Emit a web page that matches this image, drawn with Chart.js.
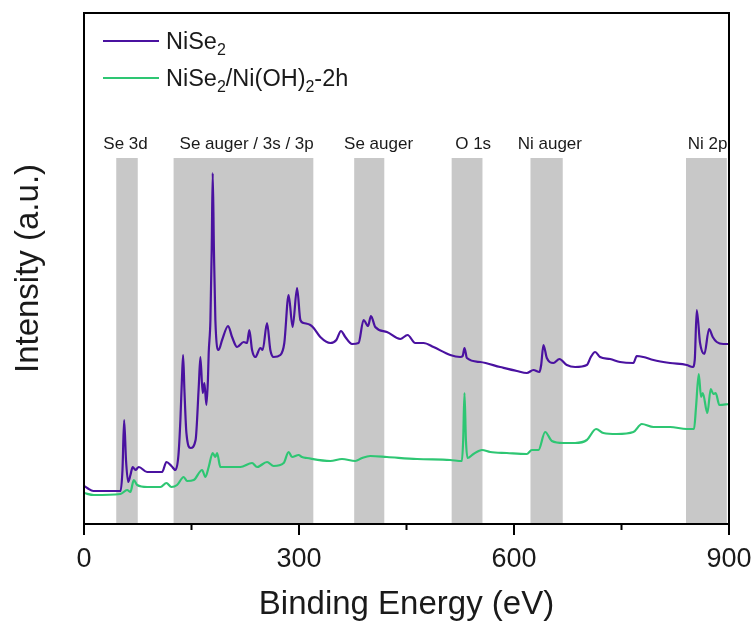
<!DOCTYPE html>
<html>
<head>
<meta charset="utf-8">
<script src="https://cdn.jsdelivr.net/npm/chart.js@4/dist/chart.umd.min.js"></script>
<style>
  html, body { margin: 0; padding: 0; background: #ffffff; }
  #wrap { width: 756px; height: 623px; }
</style>
</head>
<body>
<div id="wrap"><canvas id="c" width="756" height="623"></canvas></div>
<script>
// ---- data ----
const seriesNames = ["NiSe2", "NiSe2/Ni(OH)2-2h"];

// NiSe2 : binding energy (eV) and intensity (a.u.)
const nise2Energy = [0, 4.5, 13, 30, 51, 53.7, 56, 58.6, 61.6, 64.8, 68, 71.8, 76.4, 88, 109, 115, 122,
  127.6, 131.8, 134.5, 136.6, 138.3, 140.1, 142.9, 148.7, 155.7, 160.1, 162.4, 165.6, 168, 170.8, 172.9,
  174, 176.4, 178.2, 179.6, 181.3, 183.3, 187.9, 192.7, 201.1, 206.6, 213.6, 222.8, 227.5, 230.7, 234.5,
  239.1, 246.1, 249.3, 255.4, 260, 264.6, 274, 279.5, 285.5, 291.1, 297.3, 301.9, 306.5, 315.8, 320.4,
  329.7, 343.7, 352.1, 358.6, 364.6, 373.9, 383.1, 390.1, 396.3, 400.4, 406.4, 422.7, 441.3, 451.5, 462.2,
  473.8, 487.7, 511, 525, 528.4, 530.9, 534.3, 552.8, 580.7, 604, 617.9, 627.1, 635.5, 637.9, 641.1, 645.8,
  655, 663.4, 673.7, 685.3, 701.6, 707.2, 713.2, 720.1, 734.1, 748, 766.6, 771.3, 780.5, 794.5, 817.7,
  841, 849.4, 852.2, 855, 859.6, 865.6, 872.2, 877.3, 882.9, 892.1, 900];
const nise2Intensity = [38, 36, 33, 33, 33, 54, 104, 64, 42, 49, 57, 54, 57, 52, 52, 62, 58,
  54, 69, 104, 144, 169, 134, 91, 76, 84, 137, 167, 131, 141, 119, 144,
  171, 204, 274, 351, 274, 204, 174, 184, 198, 187, 177, 182, 181, 194, 174,
  167, 176, 174, 201, 174, 167, 169, 181, 229, 197, 236, 204, 201, 199, 196,
  187, 181, 184, 193, 187, 180, 181, 204, 198, 208, 197, 192, 185, 189, 181,
  181, 177, 169, 167, 168, 176, 166, 162, 157, 153, 151, 154, 152, 159, 179, 166,
  161, 165, 159, 157, 159, 167, 172, 167, 165, 162, 161, 168, 167, 164, 161,
  159, 157, 164, 214, 181, 170, 195, 187, 182, 180, 180];

// NiSe2/Ni(OH)2-2h : binding energy (eV) and intensity (a.u.)
const hybridEnergy = [0, 13.7, 50.9, 60.2, 64.8, 69.4, 74.2, 88.1, 106.7, 115, 122, 129.9, 139.1, 143.9,
  153.1, 164.8, 169.4, 174, 179.6, 183.3, 185.7, 190.3, 199.7, 218.2, 234.5, 241.5, 255.4, 264.6, 278.6,
  285.5, 290.3, 299.5, 304.2, 311.2, 343.7, 360, 378.5, 387.9, 399.5, 422.7, 464.6, 511, 527.3, 529.1,
  530.9, 532.9, 535.1, 543.5, 555.2, 566.8, 590, 617.9, 624.9, 634.1, 643.5, 652.8, 669, 685.3, 701.6,
  714.6, 724.7, 743.4, 766.6, 778.3, 794.5, 817.7, 841, 851.2, 854, 857.8, 861, 863.4, 869.8, 874.5,
  878.1, 881.5, 886.5, 900];
const hybridIntensity = [31, 29, 30, 34, 32, 44, 39, 37, 37, 41, 37, 39, 47, 43,
  44, 54, 47, 57, 71, 67, 71, 57, 57, 57, 61, 57, 62, 58, 61,
  72, 67, 69, 67, 66, 63, 65, 63, 66, 68, 67, 65, 64, 63, 84,
  131, 84, 66, 70, 74, 72, 71, 70, 74, 74, 92, 83, 81, 81, 84,
  95, 91, 90, 92, 100, 97, 97, 95, 95, 117, 150, 127, 131, 111, 135,
  130, 131, 119, 120];

// shaded regions (eV) and their labels
const regionLabels = ["Se 3d", "Se auger / 3s / 3p", "Se auger", "O 1s", "Ni auger", "Ni 2p"];
const regionStart = [45, 125, 377, 513, 623, 840];
const regionEnd   = [75, 320, 419, 556, 668, 897];
const regionLabelAt = [58, 227, 411, 543, 650, 870];

// axis ticks
const xMajorTicks = [0, 300, 600, 900];
const xMinorTicks = [150, 450, 750];

// ---- styling ----
const PURPLE = '#4a12a0';
const GREEN = '#2ec673';
const BAND = '#c8c8c8';
const INK = '#1a1a1a';
const FONT = '"Liberation Sans", Arial, Helvetica, sans-serif';
const BAND_TOP = 366;   // intensity level where the shaded bands end

function pts(xs, ys) { return xs.map((x, i) => ({ x: x, y: ys[i] })); }

const bandsPlugin = {
  id: 'bands',
  beforeDatasetsDraw(chart) {
    const { ctx, chartArea } = chart;
    const xs = chart.scales.x, ys = chart.scales.y;
    ctx.save();
    ctx.fillStyle = BAND;
    const top = ys.getPixelForValue(BAND_TOP);
    for (let i = 0; i < regionStart.length; i++) {
      const a = xs.getPixelForValue(regionStart[i]);
      const b = xs.getPixelForValue(regionEnd[i]);
      ctx.fillRect(a, top, b - a, chartArea.bottom - top);
    }
    ctx.fillStyle = INK;
    ctx.font = '17px ' + FONT;
    ctx.textAlign = 'center';
    ctx.textBaseline = 'middle';
    for (let i = 0; i < regionLabels.length; i++) {
      ctx.fillText(regionLabels[i], xs.getPixelForValue(regionLabelAt[i]), top - 14);
    }
    ctx.restore();
  },
  afterDraw(chart) {
    const { ctx, chartArea } = chart;
    const xs = chart.scales.x;
    ctx.save();
    ctx.strokeStyle = '#000';
    ctx.lineWidth = 2;
    ctx.strokeRect(chartArea.left, chartArea.top, chartArea.right - chartArea.left, chartArea.bottom - chartArea.top);
    ctx.beginPath();
    xMajorTicks.forEach(v => {
      const p = xs.getPixelForValue(v);
      ctx.moveTo(p, chartArea.bottom);
      ctx.lineTo(p, chartArea.bottom + 11);
    });
    xMinorTicks.forEach(v => {
      const p = xs.getPixelForValue(v);
      ctx.moveTo(p, chartArea.bottom);
      ctx.lineTo(p, chartArea.bottom + 6);
    });
    ctx.stroke();

    // legend
    const rows = [
      { color: PURPLE, y: 41, parts: [['NiSe', 0], ['2', 1]] },
      { color: GREEN, y: 78, parts: [['NiSe', 0], ['2', 1], ['/Ni(OH)', 0], ['2', 1], ['-2h', 0]] }
    ];
    rows.forEach(r => {
      ctx.strokeStyle = r.color;
      ctx.lineWidth = 2;
      ctx.beginPath();
      ctx.moveTo(103, r.y);
      ctx.lineTo(159, r.y);
      ctx.stroke();
      let x = 166;
      ctx.fillStyle = INK;
      ctx.textAlign = 'left';
      ctx.textBaseline = 'alphabetic';
      r.parts.forEach(p => {
        if (p[1]) {
          ctx.font = '16px ' + FONT;
          ctx.fillText(p[0], x, r.y + 14);
        } else {
          ctx.font = '23.5px ' + FONT;
          ctx.fillText(p[0], x, r.y + 8);
        }
        x += ctx.measureText(p[0]).width;
      });
    });
    ctx.restore();
  }
};

new Chart(document.getElementById('c'), {
  type: 'line',
  data: {
    datasets: [
      { label: seriesNames[0], data: pts(nise2Energy, nise2Intensity), borderColor: PURPLE,
        borderWidth: 2.2, pointRadius: 0, cubicInterpolationMode: 'monotone', fill: false },
      { label: seriesNames[1], data: pts(hybridEnergy, hybridIntensity), borderColor: GREEN,
        borderWidth: 2.2, pointRadius: 0, cubicInterpolationMode: 'monotone', fill: false }
    ]
  },
  options: {
    responsive: false,
    animation: false,
    devicePixelRatio: 1,
    layout: { padding: { top: 13, right: 27, left: 0, bottom: 0 } },
    plugins: { legend: { display: false }, tooltip: { enabled: false } },
    scales: {
      x: {
        type: 'linear', min: 0, max: 900,
        grid: { display: false }, border: { display: false },
        ticks: { stepSize: 300, color: INK, font: { size: 27, family: FONT }, padding: 11, maxRotation: 0,
          callback: v => (xMajorTicks.includes(v) ? String(v) : '') },
        title: { display: true, text: 'Binding Energy (eV)', color: INK,
          font: { size: 33, family: FONT, lineHeight: 1 }, padding: { top: 0, bottom: 2 } },
        afterFit: s => { s.height = 99; s.paddingLeft = 0; s.paddingRight = 0; }
      },
      y: {
        min: 0, max: 511,
        grid: { display: false }, border: { display: false },
        ticks: { display: false },
        title: { display: true, text: 'Intensity (a.u.)', color: INK,
          font: { size: 33, family: FONT, lineHeight: 1 }, padding: { top: 12, bottom: 0 } },
        afterFit: s => { s.width = 84; }
      }
    }
  },
  plugins: [bandsPlugin]
});
</script>
</body>
</html>
